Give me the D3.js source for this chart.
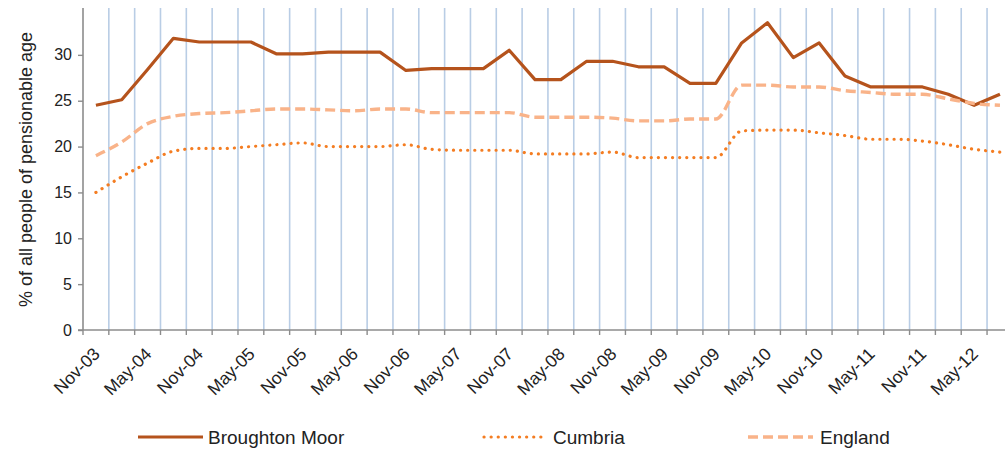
<!DOCTYPE html>
<html>
<head>
<meta charset="utf-8">
<script src="https://cdn.jsdelivr.net/npm/d3@7"></script>
<style>
  body { margin: 0; background: #fff; }
  svg { display: block; font-family: "Liberation Sans", Arial, sans-serif; }
</style>
</head>
<body>
<svg id="chart" width="1005" height="451"></svg>
<script>
// quarterly categories, Nov-03 .. Aug-12
const categories = [
  "Nov-03", "Feb-04", "May-04", "Aug-04", "Nov-04", "Feb-05", "May-05", "Aug-05",
  "Nov-05", "Feb-06", "May-06", "Aug-06", "Nov-06", "Feb-07", "May-07", "Aug-07",
  "Nov-07", "Feb-08", "May-08", "Aug-08", "Nov-08", "Feb-09", "May-09", "Aug-09",
  "Nov-09", "Feb-10", "May-10", "Aug-10", "Nov-10", "Feb-11", "May-11", "Aug-11",
  "Nov-11", "Feb-12", "May-12", "Aug-12"
];

const broughtonMoor = [
  24.5, 25.1, 28.4, 31.8, 31.4, 31.4, 31.4, 30.1, 30.1, 30.3, 30.3, 30.3,
  28.3, 28.5, 28.5, 28.5, 30.5, 27.3, 27.3, 29.3, 29.3, 28.7, 28.7, 26.9,
  26.9, 31.3, 33.5, 29.7, 31.3, 27.7, 26.5, 26.5, 26.5, 25.7, 24.5, 25.7
];

const cumbria = [
  15.0, 16.7, 18.2, 19.5, 19.8, 19.8, 20.0, 20.2, 20.4, 20.0, 20.0, 20.0,
  20.2, 19.7, 19.6, 19.6, 19.6, 19.2, 19.2, 19.2, 19.4, 18.8, 18.8, 18.8,
  18.8, 21.7, 21.8, 21.8, 21.5, 21.2, 20.8, 20.8, 20.6, 20.2, 19.7, 19.4
];

const england = [
  19.0, 20.5, 22.5, 23.3, 23.6, 23.7, 23.9, 24.1, 24.1, 24.0, 23.9, 24.1,
  24.1, 23.7, 23.7, 23.7, 23.7, 23.2, 23.2, 23.2, 23.1, 22.8, 22.8, 23.0,
  23.0, 26.7, 26.7, 26.5, 26.5, 26.1, 25.9, 25.7, 25.7, 25.2, 24.7, 24.5
];

const yTicks = [0, 5, 10, 15, 20, 25, 30];

const series = [
  { name: "Broughton Moor", values: broughtonMoor, color: "#b5531c", width: 3.2, dash: null, curve: d3.curveLinear, cap: "butt" },
  { name: "Cumbria", values: cumbria, color: "#f47d22", width: 3.2, dash: "0.1 7", curve: d3.curveMonotoneX, cap: "round" },
  { name: "England", values: england, color: "#f9b389", width: 3.4, dash: "10 5", curve: d3.curveMonotoneX, cap: "butt" }
];

const svg = d3.select("#chart");
const plotLeft = 83, plotBottom = 330, plotTop = 9;
const step = 25.83;

const x = d3.scaleBand()
  .domain(categories)
  .range([plotLeft, plotLeft + step * categories.length])
  .padding(0);

const y = d3.scaleLinear()
  .domain([0, 35])
  .range([plotBottom, plotTop]);

// vertical gridlines at category boundaries
const bounds = d3.range(1, categories.length + 1).map(i => plotLeft + i * x.bandwidth());
svg.append("g")
  .selectAll("line")
  .data(bounds)
  .join("line")
  .attr("x1", d => d).attr("x2", d => d)
  .attr("y1", plotTop - 1).attr("y2", plotBottom)
  .attr("stroke", "#b9cde5")
  .attr("stroke-width", 1.6);

// y axis
const yAxis = svg.append("g")
  .attr("transform", `translate(${plotLeft},0)`)
  .call(d3.axisLeft(y).tickValues(yTicks).tickSize(5).tickPadding(6).tickSizeOuter(0));
yAxis.select(".domain").attr("stroke", "#8c8c8c").attr("stroke-width", 1.6)
  .attr("d", `M0,${y(35) - 1}V${plotBottom}`);
yAxis.selectAll(".tick line").attr("stroke", "#8c8c8c").attr("stroke-width", 1.4);
yAxis.selectAll(".tick text").attr("font-size", 16).attr("fill", "#222")
  .attr("font-family", "Liberation Sans, Arial, sans-serif");

// x axis line + ticks at boundaries
svg.append("line")
  .attr("x1", plotLeft - 5).attr("x2", 1005)
  .attr("y1", plotBottom).attr("y2", plotBottom)
  .attr("stroke", "#8c8c8c").attr("stroke-width", 1.6);
svg.append("g")
  .selectAll("line")
  .data([plotLeft].concat(bounds))
  .join("line")
  .attr("x1", d => d).attr("x2", d => d)
  .attr("y1", plotBottom).attr("y2", plotBottom + 5)
  .attr("stroke", "#8c8c8c").attr("stroke-width", 1.4);

// x labels every other category
svg.append("g")
  .selectAll("text")
  .data(categories.filter((c, i) => i % 2 === 0))
  .join("text")
  .attr("transform", d => `translate(${x(d) + x.bandwidth() / 2 + 5},${plotBottom + 25}) rotate(-45)`)
  .attr("text-anchor", "end")
  .attr("font-size", 17.5)
  .attr("fill", "#222")
  .text(d => d);

// y axis title
svg.append("text")
  .attr("transform", `translate(32,${(plotTop + plotBottom) / 2}) rotate(-90)`)
  .attr("text-anchor", "middle")
  .attr("font-size", 18)
  .attr("fill", "#222")
  .text("% of all people of pensionable age");

// lines
series.forEach(s => {
  const line = d3.line()
    .x((d, i) => x(categories[i]) + x.bandwidth() / 2)
    .y(d => y(d))
    .curve(s.curve);
  svg.append("path")
    .datum(s.values)
    .attr("fill", "none")
    .attr("stroke", s.color)
    .attr("stroke-width", s.width)
    .attr("stroke-linecap", s.cap)
    .attr("stroke-linejoin", "round")
    .attr("stroke-dasharray", s.dash)
    .attr("d", line);
});

// legend
const legendPos = [
  { x0: 138, x1: 203, tx: 208 },
  { x0: 484, x1: 544, tx: 553 },
  { x0: 748, x1: 813, tx: 820 }
];
const legend = svg.append("g");
series.forEach((s, i) => {
  const p = legendPos[i];
  legend.append("line")
    .attr("x1", p.x0).attr("x2", p.x1)
    .attr("y1", 437).attr("y2", 437)
    .attr("stroke", s.color)
    .attr("stroke-width", s.width)
    .attr("stroke-linecap", s.cap)
    .attr("stroke-dasharray", s.dash);
  legend.append("text")
    .attr("x", p.tx).attr("y", 444)
    .attr("font-size", 19)
    .attr("fill", "#222")
    .text(s.name);
});
</script>
</body>
</html>
